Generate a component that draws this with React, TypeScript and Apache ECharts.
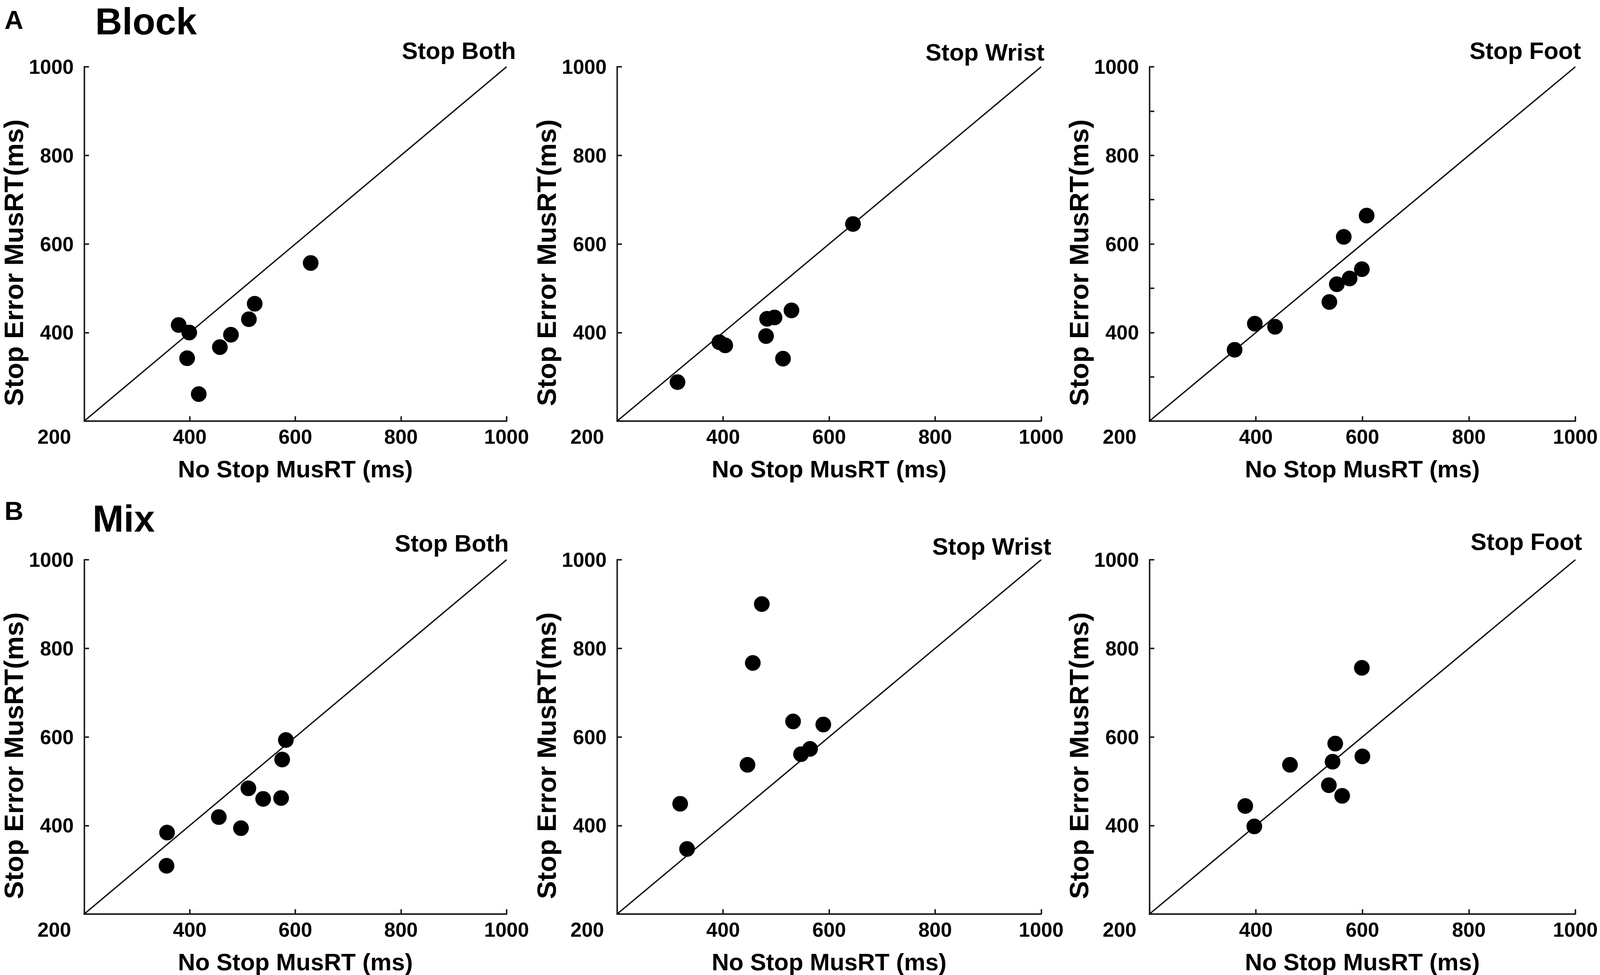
import React, { useEffect, useRef } from 'react';
import * as echarts from 'echarts';

// ---- text ----
const rowLetters = ['A', 'B'];
const rowTitles = ['Block', 'Mix'];
const panelTitles = ['Stop Both', 'Stop Wrist', 'Stop Foot'];
const xAxisTitle = 'No Stop MusRT (ms)';
const yAxisTitle = 'Stop Error MusRT(ms)';

// ---- axes ----
const axisTicks = [200, 400, 600, 800, 1000];
const AXIS_MIN = 200;
const AXIS_MAX = 1000;
const AXIS_STEP = 200;

// ---- data (ms) ----
const blockBothX = [379, 399, 395, 417, 457, 478, 512, 523, 629];
const blockBothY = [417, 400, 342, 261, 367, 395, 430, 465, 557];
const blockWristX = [314, 393, 404, 481, 483, 497, 529, 513, 645];
const blockWristY = [288, 378, 371, 392, 431, 434, 450, 341, 645];
const blockFootX = [360, 398, 436, 538, 552, 576, 599, 565, 608];
const blockFootY = [361, 420, 413, 469, 509, 522, 543, 616, 664];
const mixBothX = [357, 356, 455, 497, 511, 539, 573, 575, 582];
const mixBothY = [384, 309, 419, 394, 484, 460, 462, 549, 593];
const mixWristX = [319, 332, 446, 456, 473, 532, 547, 564, 589];
const mixWristY = [449, 347, 537, 767, 900, 635, 561, 573, 628];
const mixFootX = [380, 397, 464, 537, 562, 544, 549, 600, 599];
const mixFootY = [444, 398, 537, 491, 467, 544, 585, 556, 756];

const panelData = [
  [blockBothX, blockBothY],
  [blockWristX, blockWristY],
  [blockFootX, blockFootY],
  [mixBothX, mixBothY],
  [mixWristX, mixWristY],
  [mixFootX, mixFootY],
];

// ---- layout in reference pixels (4286 x 2496), scaled to the real viewport ----
const W = 4286;
const H = 2496;
const gridLefts = [222, 1653, 3079];
const gridWidths = [1135, 1136, 1141];
const gridTops = [171, 1433];
const gridHeight = 907;
const titleRight = [[1382, 2798, 4235], [1363, 2816, 4238]];
const titleCY = [[130, 134, 130], [1391, 1399, 1387]];

const FONT = "'Liberation Sans', Arial, Helvetica, sans-serif";
const INK = '#000';
const AXIS_INK = '#1c1c1c';

export default function App() {
  const ref = useRef<HTMLDivElement>(null);

  useEffect(() => {
    if (!ref.current) return;
    const chart = echarts.init(ref.current, undefined, { renderer: 'svg' });
    const vw = chart.getWidth();
    const vh = chart.getHeight();
    const sx = vw / W;
    const sy = vh / H;
    const fs = Math.min(sx, sy);
    const X = (v: number) => v * sx;
    const Y = (v: number) => v * sy;
    const F = (v: number) => v * fs;

    const grids: any[] = [];
    const xAxes: any[] = [];
    const yAxes: any[] = [];
    const series: any[] = [];
    const graphics: any[] = [];

    for (let r = 0; r < 2; r++) {
      for (let c = 0; c < 3; c++) {
        const i = r * 3 + c;
        grids.push({ left: X(gridLefts[c]), top: Y(gridTops[r]), width: X(gridWidths[c]), height: Y(gridHeight) });
        const tickStyle = { color: AXIS_INK, width: F(4) };
        xAxes.push({
          type: 'value',
          gridIndex: i,
          min: AXIS_MIN,
          max: AXIS_MAX,
          interval: AXIS_STEP,
          name: xAxisTitle,
          nameLocation: 'middle',
          nameGap: Y(96),
          nameTextStyle: { fontFamily: FONT, fontWeight: 'bold', fontSize: F(64), lineHeight: F(56), color: INK },
          axisLine: { show: true, lineStyle: tickStyle },
          axisTick: { show: true, inside: true, length: F(13), lineStyle: tickStyle },
          axisLabel: {
            margin: Y(14),
            fontFamily: FONT,
            fontWeight: 'bold',
            fontSize: F(54),
            color: INK,
            formatter: (v: number) => (v === axisTicks[0] ? '{o|' + v + '}' : String(v)),
            rich: {
              o: { fontFamily: FONT, fontWeight: 'bold', fontSize: F(54), color: INK, padding: [0, X(160), 0, 0] },
            },
          },
          splitLine: { show: false },
        });
        yAxes.push({
          type: 'value',
          gridIndex: i,
          min: AXIS_MIN,
          max: AXIS_MAX,
          interval: AXIS_STEP,
          name: yAxisTitle,
          nameLocation: 'middle',
          nameRotate: 90,
          nameGap: X(141),
          nameTextStyle: {
            fontFamily: FONT,
            fontWeight: 'bold',
            fontSize: F(72),
            lineHeight: F(62),
            color: INK,
            padding: [0, Y(96), 0, 0],
          },
          axisLine: { show: true, lineStyle: tickStyle },
          axisTick: { show: true, inside: true, length: F(13), lineStyle: tickStyle },
          minorTick: i === 2
            ? { show: true, splitNumber: 2, length: F(13), lineStyle: tickStyle }
            : { show: false },
          axisLabel: {
            margin: X(28),
            fontFamily: FONT,
            fontWeight: 'bold',
            fontSize: F(54),
            color: INK,
            formatter: (v: number) => (v === axisTicks[0] ? '' : String(v)),
          },
          splitLine: { show: false },
        });
        series.push({
          type: 'line',
          xAxisIndex: i,
          yAxisIndex: i,
          data: [[AXIS_MIN, AXIS_MIN], [AXIS_MAX, AXIS_MAX]],
          symbol: 'none',
          lineStyle: { color: INK, width: F(3.5) },
          silent: true,
        });
        const [xs, ys] = panelData[i];
        series.push({
          type: 'scatter',
          xAxisIndex: i,
          yAxisIndex: i,
          data: xs.map((x, k) => [x, ys[k]]),
          symbol: 'circle',
          symbolSize: F(42),
          itemStyle: { color: INK, opacity: 1 },
        });
        graphics.push({
          type: 'text',
          x: X(titleRight[r][c]),
          y: Y(titleCY[r][c]),
          style: {
            text: panelTitles[c],
            fill: INK,
            font: `bold ${F(64)}px ${FONT}`,
            textAlign: 'right',
            textVerticalAlign: 'middle',
          },
        });
      }
    }

    const letterCY = [50, 1307];
    const rowTitleCY = [54, 1327];
    const rowTitleLeft = [255, 248];
    for (let r = 0; r < 2; r++) {
      graphics.push({
        type: 'text',
        x: X(12),
        y: Y(letterCY[r]),
        style: {
          text: rowLetters[r], fill: INK, font: `bold ${F(70)}px ${FONT}`, lineHeight: F(60),
          textAlign: 'left', textVerticalAlign: 'middle',
        },
      });
      graphics.push({
        type: 'text',
        x: X(rowTitleLeft[r]),
        y: Y(rowTitleCY[r]),
        style: {
          text: rowTitles[r], fill: INK, font: `bold ${F(100)}px ${FONT}`, lineHeight: F(80),
          textAlign: 'left', textVerticalAlign: 'middle',
        },
      });
    }

    chart.setOption({
      animation: false,
      backgroundColor: '#fff',
      grid: grids,
      xAxis: xAxes,
      yAxis: yAxes,
      series,
      graphic: graphics,
    });

    return () => chart.dispose();
  }, []);

  return (
    <div
      ref={ref}
      style={{ position: 'fixed', left: 0, top: 0, width: '100vw', height: '100vh', background: '#fff' }}
    />
  );
}
